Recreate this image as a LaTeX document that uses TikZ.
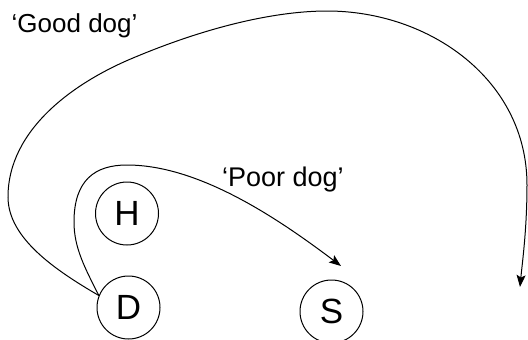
\documentclass[tikz,border=0pt]{standalone}
\usepackage{fontspec}
\setmainfont{Liberation Sans}
\usetikzlibrary{arrows.meta}
\begin{document}
\begin{tikzpicture}[x=1pt,y=-1pt,
  state/.style={circle,draw,line width=1pt,minimum size=63pt,inner sep=0pt,font=\fontsize{35}{40}\selectfont},
  lbl/.style={inner sep=0pt,anchor=base west,font=\fontsize{26}{30}\selectfont},
  conn/.style={line width=1pt,-{Stealth[length=12pt,width=9pt,inset=2.5pt]}}]
\useasboundingbox (0,0) rectangle (528,340);
\node[state] (H) at (127,213.5) {H};
\node[state] (D) at (128.5,307.5) {D};
\node[state] (S) at (331.5,311.5) {S};
\node[lbl] (good) at (11.5,32.5) {‘Good dog’};
\node[lbl,font=\fontsize{27}{31}\selectfont] (poor) at (222,186.7) {‘Poor dog’};
\coordinate (gend) at (520,287);
\coordinate (pend) at (341,266);
\draw[conn] (D.158) .. controls (55,270) and (8,238) .. (8,197)
  .. controls (8,130) and (73,83) .. (133,58)
  .. controls (213,24.3) and (280,11) .. (327,11)
  .. controls (430,11) and (527,80) .. (527,185)
  .. controls (527,230) and (522,265) .. (gend);
\draw[conn] (D.158) .. controls (85,268) and (74,248) .. (74,222)
  .. controls (74,180) and (95,165) .. (127,165)
  .. controls (200,165) and (280,220) .. (pend);
\end{tikzpicture}
\end{document}
